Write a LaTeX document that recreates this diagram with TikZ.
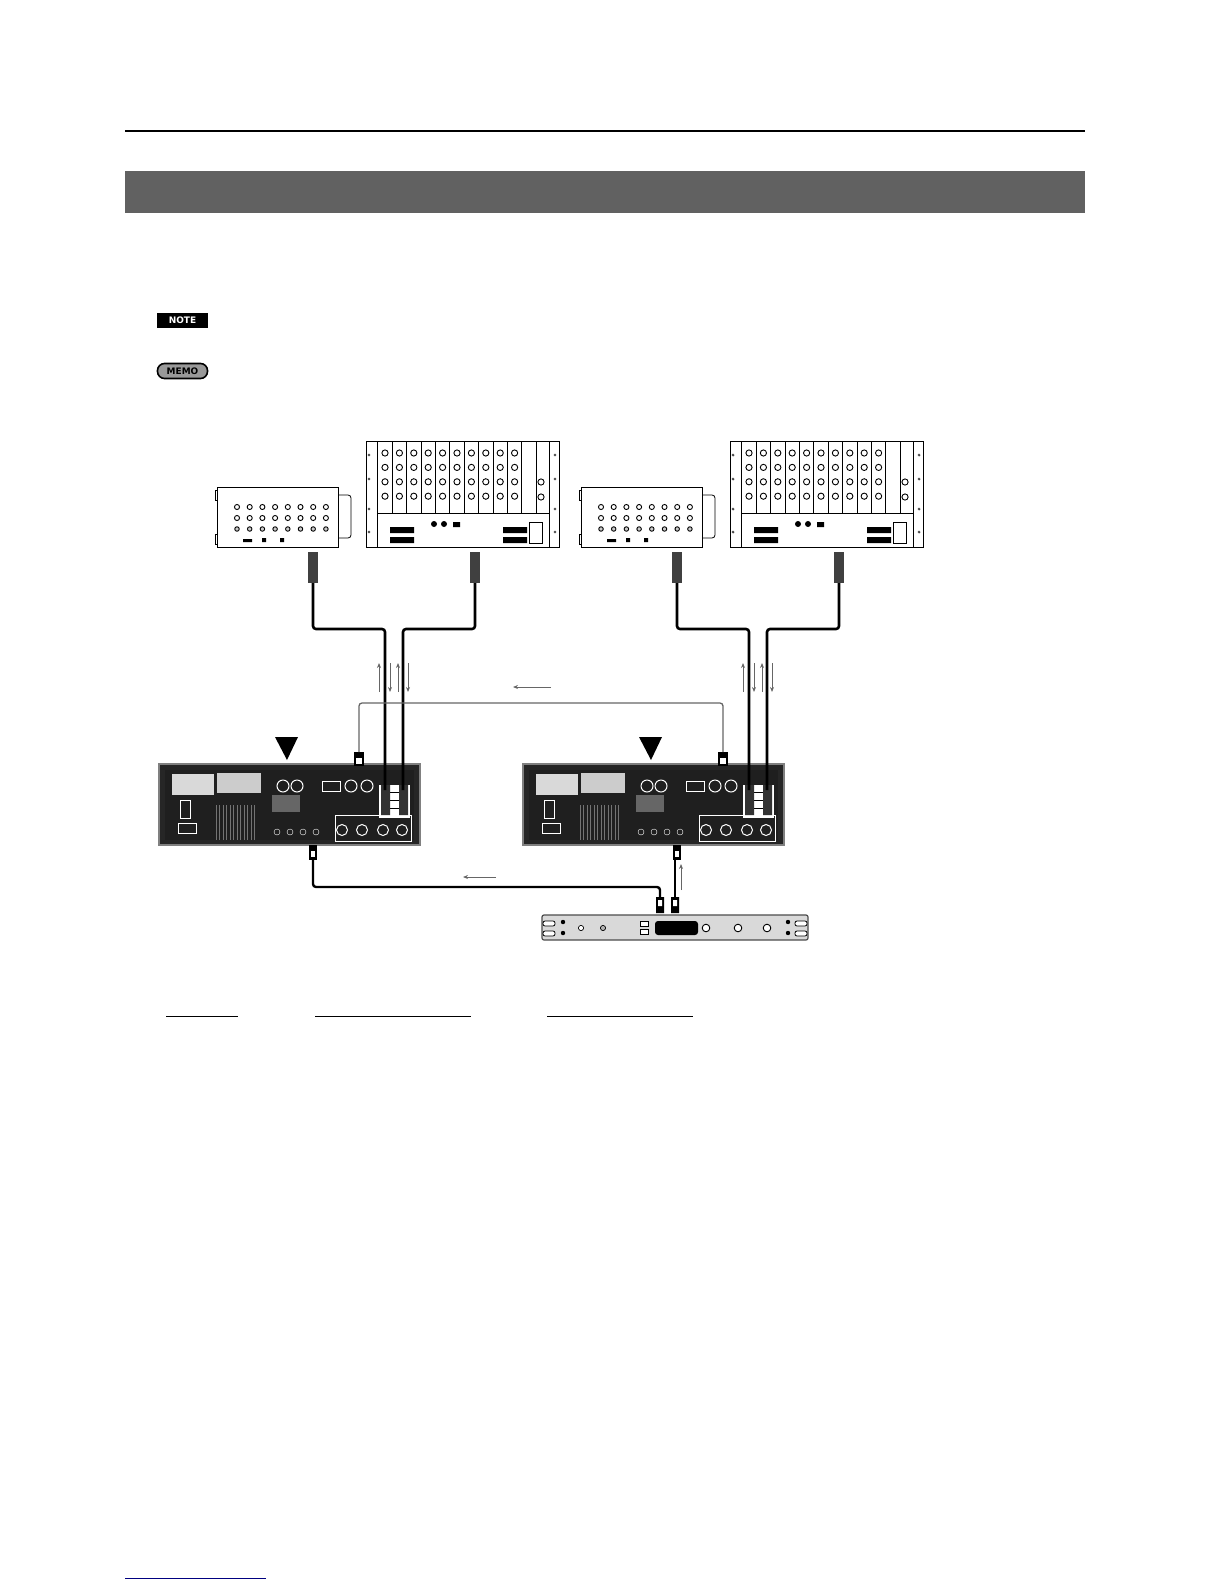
\documentclass[tikz,border=0pt]{standalone}
\usepackage{fontspec}
\setmainfont{DejaVu Sans}
\usetikzlibrary{arrows.meta}
\begin{document}
\begin{tikzpicture}[x=1bp,y=-1bp,
  cable/.style={line width=2.6pt,rounded corners=3pt},
  thin/.style={line width=1.3pt,draw=black!60,rounded corners=3pt},
  flow/.style={draw=black!60,line width=1pt,-{Stealth[length=5pt,width=4pt]}},
  panel/.style={draw=black,line width=0.8pt,fill=white},
  unit/.style={draw=black!50,fill=black!85,line width=1.5pt},
  jack/.style={circle,draw=black,line width=0.9pt,inner sep=2.2pt,fill=white}]
\useasboundingbox (0,0) rectangle (1224,1584);
\draw[line width=1.6pt] (125,131) -- (1085,131);
\fill[black!62] (125,171) rectangle (1085,213);
\node[fill=black,text=white,font=\bfseries\small,inner sep=1.5pt,minimum width=51bp,minimum height=15bp] (note) at (182.5,320.5) {NOTE};
\node[fill=black!40,draw=black,line width=1.6pt,rounded corners=7pt,font=\bfseries\small,inner sep=1pt,minimum width=50bp,minimum height=15bp] (memo) at (182.5,371) {MEMO};

\foreach \dx/\n in {0/a,364/b}{
 \begin{scope}[xshift=\dx bp]
 % small stage box
 \draw[panel] (217,487) rectangle (338,547);
 \draw[line width=0.8pt,rounded corners=3pt] (338,495)--(351,495)--(351,538)--(338,538);
 \draw (215,490) rectangle (217,500) (215,534) rectangle (217,544);
 \foreach \i in {0,...,7}{
   \node[jack,inner sep=1.8pt] at (237+\i*12.7,507) {};
   \node[jack,inner sep=1.8pt] at (237+\i*12.7,518) {};
   \node[jack,inner sep=1.6pt,fill=black!20] at (237+\i*12.7,529) {};}
 \fill (243,539) rectangle (252,542) (262,538) rectangle (266,542) (280,538) rectangle (284,542);
 % rack
 \draw[panel] (366,441) rectangle (559,547);
 \draw (377,441)--(377,547) (549,441)--(549,547) (377,513)--(549,513);
 \foreach \i in {0,...,10}{\draw (392+\i*14.4,441)--(392+\i*14.4,513);}
 \foreach \i in {0,...,9}{\foreach \j in {0,...,3}{
   \node[jack] at (385+\i*14.4,453+\j*14.4) {};}}
 \node[jack] at (541,482) {}; \node[jack] at (541,497) {};
 \fill (390,527) rectangle (414,533) (390,537) rectangle (414,543);
 \fill (503,527) rectangle (527,533) (503,537) rectangle (527,543);
 \fill (434,524) circle (3) (444,524) circle (3) (453,522) rectangle (460,527);
 \draw (529,522) rectangle (542,543);
 \foreach \y in {455,479,509,532}{\draw (369,\y) circle (1.2) (555,\y) circle (1.2);}
 % plugs
 \fill[black!75] (308,552) rectangle (318,583);
 \fill[black!75] (470,552) rectangle (480,583);
 \coordinate (p1\n) at (313,583); \coordinate (p2\n) at (475,583);
 % main unit
 \draw[unit] (159,764) rectangle (420,845);
 \fill[black!88] (165,770) rectangle (414,840);
 \fill[white!85!black] (172,774) rectangle (214,795);
 \fill[white!80!black] (217,773) rectangle (261,793);
 \draw[white,line width=0.6pt] (180,800) rectangle (190,818) (178,823) rectangle (196,833);
 \foreach \i in {0,...,11}{\draw[black!55,line width=0.8pt] (216+\i*3.5,805)--(216+\i*3.5,840);}
 \foreach \x in {283,297,351,367}{\draw[white,line width=1pt] (\x,786) circle (6);}
 \draw[white] (322,781) rectangle (340,791);
 \fill[black!60] (272,795) rectangle (300,812);
 \foreach \x in {342,362,383,402}{\draw[white,line width=1pt] (\x,830) circle (5.5);}
 \draw[white] (335,815) rectangle (411,841);
 \foreach \x in {277,290,303,316}{\draw[white] (\x,832) circle (3);}
 \fill[black] (275,737) -- (298,737) -- (287,760) -- cycle;
 \fill[white] (379,785) rectangle (410,818);
 \draw[black,line width=0.5pt] (382,792)--(408,792) (382,800)--(408,800) (382,808)--(408,808);
 % unit plugs for top cables
 \fill[black!80] (381,785) rectangle (390,815) (399,785) rectangle (408,815);
 \fill[black] (354,752) rectangle (364,766);
 \fill[white] (356,758) rectangle (362,764);
 \fill[black] (309,845) rectangle (317,860);
 \fill[white] (311,851) rectangle (315,857);
 % top cables
 \draw[cable] (p1\n) -- (313,629) -- (385,629) -- (385,790);
 \draw[cable] (p2\n) -- (475,629) -- (403,629) -- (403,790);
 % flow arrows
 \draw[flow] (379,692) -- (379,663);
 \draw[flow] (390,663) -- (390,692);
 \draw[flow] (398,692) -- (398,663);
 \draw[flow] (408,663) -- (408,692);
 \end{scope}}
% horizontal link cable
\coordinate (la) at (359,752); \coordinate (lb) at (723,752);
\draw[thin] (la) -- (359,703) -- (723,703) -- (lb);
\draw[flow] (551,687) -- (513,687);
% bottom device
\node[draw=black!70,fill=black!15,line width=1.2pt,rounded corners=2pt,minimum width=266bp,minimum height=25bp,inner sep=0pt] (dev) at (675,927.5) {};
\fill[black,rounded corners=3pt] (655,921) rectangle (698,935);
\foreach \x in {706,738,767}{\draw[line width=0.9pt,fill=white] (\x,928) circle (3.8);}
\draw[line width=0.7pt,fill=white] (581,928) circle (2.6);
\draw[line width=0.7pt,fill=black!30] (603,928) circle (2.6);
\draw[line width=0.7pt,fill=white] (640,921) rectangle (648,926) (640,929) rectangle (648,934);
\foreach \x in {549,801}{\draw[line width=0.8pt,fill=white,rounded corners=2pt] (\x-6,921) rectangle (\x+6,926) (\x-6,931) rectangle (\x+6,936);}
\fill (563,922) circle (2.2) (563,933) circle (2.2) (788,922) circle (2.2) (788,933) circle (2.2);
% bottom plugs
\fill[black] (656,897) rectangle (664,913) (671,897) rectangle (679,913);
\fill[white] (658,900) rectangle (662,906) (673,900) rectangle (677,906);
\draw[cable,line width=2.4pt] (313,860) -- (313,887) -- (660,887) -- (660,897);
\draw[cable,line width=2.4pt] (675,860) -- (675,897);
\draw[flow] (496,877) -- (463,877);
\draw[flow] (681,890) -- (681,864);
% underlines
\draw[line width=1pt] (166,1016)--(238,1016) (315,1016)--(471,1016) (547,1016)--(693,1016);
\draw[line width=0.8pt,blue!50!black] (125,1578)--(266,1578);
\end{tikzpicture}
\end{document}
